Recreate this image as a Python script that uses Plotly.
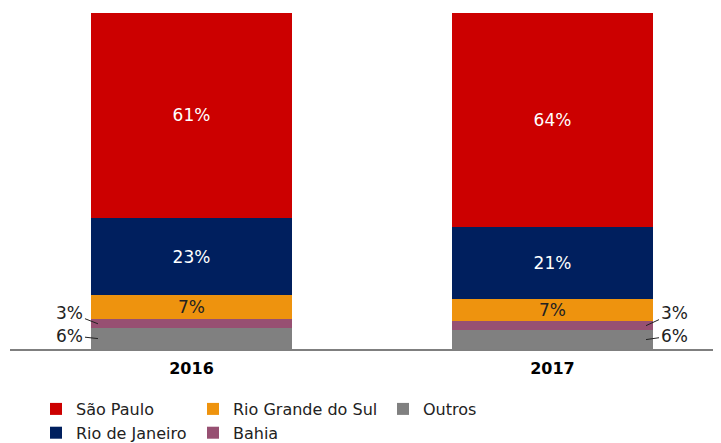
import plotly.graph_objects as go

years = ["2016", "2017"]

# Values (share, %); stacking order bottom -> top
outros = [6.2, 5.6]
bahia = [2.6, 2.7]
rgs = [7.2, 6.5]
rio = [23.0, 21.6]
sp = [61.0, 63.6]

outros_lbl = ["6%", "6%"]
bahia_lbl = ["3%", "3%"]
rgs_lbl = ["7%", "7%"]
rio_lbl = ["23%", "21%"]
sp_lbl = ["61%", "64%"]

FONT = "DejaVu Sans"
BAR_W = 0.557

series = [
    # name, values, labels, color, text color, legend, rank, inside text
    ("Outros", outros, outros_lbl, "#808080", "#222222", "legend3", 5, False),
    ("Bahia", bahia, bahia_lbl, "#975072", "#222222", "legend2", 4, False),
    ("Rio Grande do Sul", rgs, rgs_lbl, "#EE930E", "#222222", "legend2", 3, True),
    ("Rio de Janeiro", rio, rio_lbl, "#001F5E", "#FFFFFF", "legend", 2, True),
    ("São Paulo", sp, sp_lbl, "#CC0000", "#FFFFFF", "legend", 1, True),
]

fig = go.Figure()
for name, vals, lbls, color, tcolor, leg, rank, inside in series:
    fig.add_trace(go.Bar(
        x=years, y=vals, name=name,
        marker=dict(color=color, line=dict(width=0)),
        width=BAR_W,
        text=lbls if inside else None,
        textposition="inside" if inside else "none",
        insidetextanchor="middle",
        textangle=0,
        constraintext="none",
        textfont=dict(family=FONT, size=17, color=tcolor),
        legend=leg, legendrank=rank,
        hoverinfo="skip",
    ))

# Outside labels with leader lines for the two smallest segments
ann = []
half = BAR_W / 2
for i, yr in enumerate(years):
    side = -1 if i == 0 else 1
    xpt = i + side * (half - 7 / 361)
    segs = [
        (outros[i] / 2, outros_lbl[i], -3 if i == 0 else -4),
        (outros[i] + bahia[i] / 2, bahia_lbl[i], -11 if i == 0 else -13),
    ]
    for yc, lbl, ay in segs:
        ann.append(dict(
            x=xpt, y=yc, xref="x", yref="y", text=lbl,
            showarrow=True, arrowhead=0, arrowwidth=1, arrowcolor="#222222",
            ax=side * 28, ay=ay, standoff=0,
            font=dict(family=FONT, size=17, color="#222222"),
        ))

legend_common = dict(
    orientation="v", yanchor="top", xanchor="left",
    font=dict(family=FONT, size=16, color="#222222"),
    bgcolor="rgba(0,0,0,0)", traceorder="normal",
    itemclick=False, itemdoubleclick=False,
)
LEG_Y = -0.128

fig.update_layout(
    barmode="stack",
    width=713, height=435,
    margin=dict(l=2, r=0, t=5, b=94, autoexpand=False),
    paper_bgcolor="white", plot_bgcolor="white",
    font=dict(family=FONT, color="#222222"),
    showlegend=True,
    legend=dict(x=(36 - 10) / 711, y=LEG_Y, **legend_common),
    legend2=dict(x=(193 - 10) / 711, y=LEG_Y, **legend_common),
    legend3=dict(x=(383 - 10) / 711, y=LEG_Y, **legend_common),
    annotations=ann,
    xaxis=dict(
        type="category", range=[-0.5028, 1.4668],
        showline=True, linecolor="#7F7F7F", linewidth=2,
        showgrid=False, zeroline=False, ticks="",
        ticklabelstandoff=4,
        tickfont=dict(family=FONT, size=16, color="#000000", weight="bold"),
    ),
    yaxis=dict(range=[0, 100], visible=False, showgrid=False, zeroline=False),
)

fig.write_html("out.html")
